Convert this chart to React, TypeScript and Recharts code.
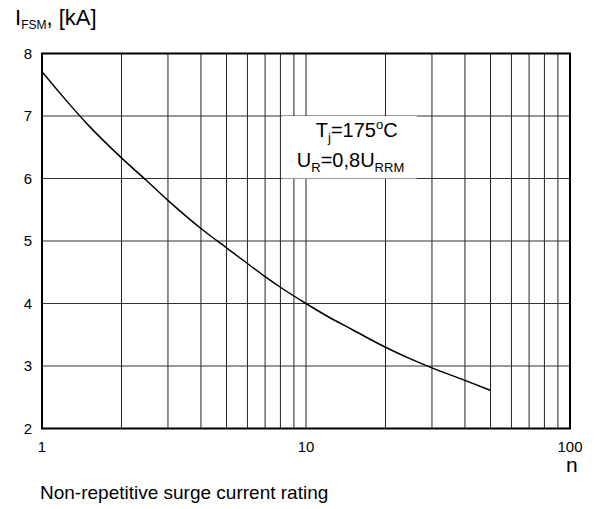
import React from "react";
import { LineChart, Line, XAxis, YAxis, ReferenceLine, ReferenceArea } from "recharts";

// surge current vs. number of cycles
const cycles = [1, 1.2, 1.5, 2, 2.5, 3, 4, 5, 6, 7, 8, 10, 12, 15, 20, 25, 30, 40, 50];
const surgeKA = [7.71, 7.31, 6.85, 6.33, 5.96, 5.65, 5.2, 4.89, 4.64, 4.43, 4.26, 4.0, 3.8, 3.58, 3.3, 3.11, 2.97, 2.77, 2.61];

const xTicks = [1, 10, 100];
const yTicks = [2, 3, 4, 5, 6, 7, 8];
const xGrid = [2, 3, 4, 5, 6, 7, 8, 9, 10, 20, 30, 40, 50, 60, 70, 80, 90];
const yGrid = [3, 4, 5, 6, 7];

const data = cycles.map((n, i) => ({ n, i: surgeKA[i] }));

const FONT = "'Liberation Sans', Arial, sans-serif";

const NoteBox = ({ viewBox }: any) => {
  const { x, y } = viewBox;
  return (
    <g fontFamily={FONT} fontSize={20} fill="#000">
      <text x={x + 34} y={y + 21}>
        <tspan>T</tspan>
        <tspan fontSize={13} dy={5}>j</tspan>
        <tspan dy={-5}>=175</tspan>
        <tspan fontSize={13} dy={-8}>o</tspan>
        <tspan dy={8}>C</tspan>
      </text>
      <text x={x + 15} y={y + 50.5}>
        <tspan>U</tspan>
        <tspan fontSize={13} dy={5}>R</tspan>
        <tspan dy={-5}>=0,8U</tspan>
        <tspan fontSize={13} dy={5}>RRM</tspan>
      </text>
    </g>
  );
};

export default function App() {
  return (
    <div style={{ position: "absolute", left: 0, top: 0, width: 595, height: 509, background: "#fff" }}>
      <LineChart width={595} height={509} data={data} margin={{ top: 53.5, right: 25, left: 0, bottom: 0 }}>
        <XAxis
          dataKey="n"
          type="number"
          scale="log"
          domain={[1, 100]}
          ticks={xTicks}
          allowDataOverflow
          height={80.5}
          tickLine={false}
          axisLine={false}
          tickSize={0}
          tickMargin={13}
          tick={{ fill: "#000", fontSize: 15, fontFamily: FONT }}
        />
        <YAxis
          type="number"
          domain={[2, 8]}
          ticks={yTicks}
          width={42}
          tickLine={false}
          axisLine={false}
          tickSize={0}
          tickMargin={10}
          tick={{ fill: "#000", fontSize: 15, fontFamily: FONT }}
        />
        {xGrid.map((v) => (
          <ReferenceLine key={"x" + v} x={v} stroke="#222" strokeWidth={1} />
        ))}
        {yGrid.map((v) => (
          <ReferenceLine key={"y" + v} y={v} stroke="#333" strokeWidth={1.2} />
        ))}
        <ReferenceArea
          x1={8.1}
          x2={26.3}
          y1={6}
          y2={7}
          fill="#fff"
          fillOpacity={1}
          stroke="none"
          zIndex={450}
          label={<NoteBox />}
        />
        <ReferenceArea
          x1={1}
          x2={100}
          y1={2}
          y2={8}
          fill="none"
          stroke="#000"
          strokeWidth={2}
          zIndex={460}
        />
        <Line
          dataKey="i"
          type="monotone"
          stroke="#000"
          strokeWidth={1.5}
          dot={false}
          isAnimationActive={false}
        />
      </LineChart>
      <svg width={595} height={509} style={{ position: "absolute", left: 0, top: 0, pointerEvents: "none" }}>
        <g fontFamily={FONT} fill="#000">
          <text x={15} y={25} fontSize={22}>
            <tspan>I</tspan>
            <tspan fontSize={12} dy={3.5}>FSM</tspan>
            <tspan dy={-3.5}>, [kA]</tspan>
          </text>
          <text x={566} y={472} fontSize={21}>n</text>
          <text x={40} y={499} fontSize={19}>Non-repetitive surge current rating</text>
        </g>
      </svg>
    </div>
  );
}
